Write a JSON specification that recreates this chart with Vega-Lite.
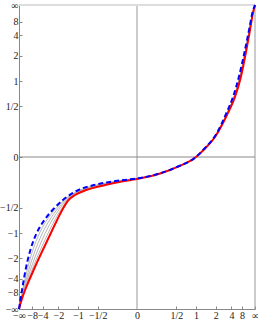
{
  "$schema": "https://vega.github.io/schema/vega-lite/v6.json",
  "width": 236,
  "height": 304,
  "autosize": "none",
  "padding": {"left": 19, "top": 5, "right": 3, "bottom": 13},
  "background": "white",
  "config": {
    "view": {"stroke": null},
    "axis": {
      "grid": false,
      "labelFont": "Liberation Serif",
      "labelFontSize": 10,
      "labelColor": "#222",
      "domainColor": "#888",
      "tickColor": "#888",
      "tickSize": -3,
      "labelOverlap": false,
      "labelFlush": false,
      "labelPadding": 4,
      "title": null
    }
  },
  "datasets": {
    "red": [
      {"u": -1, "v": -1}, {"u": -0.978, "v": -0.9408}, {"u": -0.948, "v": -0.875}, {"u": -0.913, "v": -0.8092},
      {"u": -0.876, "v": -0.7434}, {"u": -0.838, "v": -0.6776}, {"u": -0.798, "v": -0.6118}, {"u": -0.758, "v": -0.5461},
      {"u": -0.718, "v": -0.4803}, {"u": -0.677, "v": -0.4145}, {"u": -0.634, "v": -0.3487}, {"u": -0.58, "v": -0.2829},
      {"u": -0.525, "v": -0.25}, {"u": -0.43, "v": -0.2171}, {"u": -0.27, "v": -0.1842}, {"u": -0.05, "v": -0.1513}, {"u": 0, "v": -0.1447},
      {"u": 0.2034, "v": -0.1072}, {"u": 0.3475, "v": -0.0638}, {"u": 0.5, "v": 0}, {"u": 0.5763, "v": 0.0559},
      {"u": 0.661, "v": 0.1316}, {"u": 0.7203, "v": 0.2105}, {"u": 0.7712, "v": 0.29}, {"u": 0.8305, "v": 0.395},
      {"u": 0.8814, "v": 0.53}, {"u": 0.9237, "v": 0.69}, {"u": 0.9576, "v": 0.835}, {"u": 0.9831, "v": 0.948}, {"u": 1, "v": 1}
    ],
    "blue": [
      {"u": -1, "v": -1}, {"u": -0.9882, "v": -0.9408}, {"u": -0.9745, "v": -0.875}, {"u": -0.9602, "v": -0.8092},
      {"u": -0.9445, "v": -0.7434}, {"u": -0.9262, "v": -0.6776}, {"u": -0.9035, "v": -0.6118}, {"u": -0.8749, "v": -0.5461},
      {"u": -0.8373, "v": -0.4803}, {"u": -0.7847, "v": -0.4145}, {"u": -0.7154, "v": -0.3487}, {"u": -0.6277, "v": -0.2829},
      {"u": -0.4961, "v": -0.2171}, {"u": -0.3645, "v": -0.1842}, {"u": -0.1114, "v": -0.1513}, {"u": 0, "v": -0.1414},
      {"u": 0.2034, "v": -0.1053}, {"u": 0.3475, "v": -0.0625}, {"u": 0.5, "v": 0}, {"u": 0.5763, "v": 0.0592},
      {"u": 0.661, "v": 0.1382}, {"u": 0.7203, "v": 0.2237}, {"u": 0.7627, "v": 0.298}, {"u": 0.8136, "v": 0.395},
      {"u": 0.8644, "v": 0.53}, {"u": 0.911, "v": 0.69}, {"u": 0.9492, "v": 0.835}, {"u": 0.9788, "v": 0.952}, {"u": 1, "v": 1}
    ],
    "gray": [
      {"k": "g1", "u": -1, "v": -1}, {"k": "g1", "u": -0.9862, "v": -0.9408}, {"k": "g1", "u": -0.9692, "v": -0.875}, {"k": "g1", "u": -0.9508, "v": -0.8092},
      {"k": "g1", "u": -0.9308, "v": -0.7434}, {"k": "g1", "u": -0.9086, "v": -0.6776}, {"k": "g1", "u": -0.8824, "v": -0.6118}, {"k": "g1", "u": -0.8513, "v": -0.5461},
      {"k": "g1", "u": -0.8130, "v": -0.4803}, {"k": "g1", "u": -0.7626, "v": -0.4145}, {"k": "g1", "u": -0.6983, "v": -0.3487}, {"k": "g1", "u": -0.6170, "v": -0.2829},
      {"k": "g1", "u": -0.4809, "v": -0.2171}, {"k": "g1", "u": -0.3435, "v": -0.1842}, {"k": "g1", "u": -0.0984, "v": -0.1513}, {"k": "g1", "u": 0, "v": -0.143},
      {"k": "g1", "u": 0.2034, "v": -0.106}, {"k": "g1", "u": 0.3475, "v": -0.063}, {"k": "g1", "u": 0.5, "v": 0}, {"k": "g1", "u": 0.5763, "v": 0.0575},
      {"k": "g1", "u": 0.661, "v": 0.135}, {"k": "g1", "u": 0.7203, "v": 0.217}, {"k": "g1", "u": 0.767, "v": 0.294}, {"k": "g1", "u": 0.822, "v": 0.395},
      {"k": "g1", "u": 0.873, "v": 0.53}, {"k": "g1", "u": 0.917, "v": 0.69}, {"k": "g1", "u": 0.953, "v": 0.835}, {"k": "g1", "u": 0.981, "v": 0.95}, {"k": "g1", "u": 1, "v": 1},

      {"k": "g2", "u": -1, "v": -1}, {"k": "g2", "u": -0.9842, "v": -0.9408}, {"k": "g2", "u": -0.9639, "v": -0.875}, {"k": "g2", "u": -0.9413, "v": -0.8092},
      {"k": "g2", "u": -0.9171, "v": -0.7434}, {"k": "g2", "u": -0.8910, "v": -0.6776}, {"k": "g2", "u": -0.8613, "v": -0.6118}, {"k": "g2", "u": -0.8277, "v": -0.5461},
      {"k": "g2", "u": -0.7888, "v": -0.4803}, {"k": "g2", "u": -0.7404, "v": -0.4145}, {"k": "g2", "u": -0.6812, "v": -0.3487}, {"k": "g2", "u": -0.6062, "v": -0.2829},
      {"k": "g2", "u": -0.4657, "v": -0.2171}, {"k": "g2", "u": -0.3225, "v": -0.1842}, {"k": "g2", "u": -0.0855, "v": -0.1513}, {"k": "g2", "u": 0, "v": -0.143},
      {"k": "g2", "u": 0.2034, "v": -0.106}, {"k": "g2", "u": 0.3475, "v": -0.063}, {"k": "g2", "u": 0.5, "v": 0}, {"k": "g2", "u": 0.5763, "v": 0.0575},
      {"k": "g2", "u": 0.661, "v": 0.135}, {"k": "g2", "u": 0.7203, "v": 0.217}, {"k": "g2", "u": 0.767, "v": 0.294}, {"k": "g2", "u": 0.822, "v": 0.395},
      {"k": "g2", "u": 0.873, "v": 0.53}, {"k": "g2", "u": 0.917, "v": 0.69}, {"k": "g2", "u": 0.953, "v": 0.835}, {"k": "g2", "u": 0.981, "v": 0.95}, {"k": "g2", "u": 1, "v": 1},

      {"k": "g3", "u": -1, "v": -1}, {"k": "g3", "u": -0.9821, "v": -0.9408}, {"k": "g3", "u": -0.9586, "v": -0.875}, {"k": "g3", "u": -0.9319, "v": -0.8092},
      {"k": "g3", "u": -0.9034, "v": -0.7434}, {"k": "g3", "u": -0.8733, "v": -0.6776}, {"k": "g3", "u": -0.8402, "v": -0.6118}, {"k": "g3", "u": -0.8041, "v": -0.5461},
      {"k": "g3", "u": -0.7644, "v": -0.4803}, {"k": "g3", "u": -0.7183, "v": -0.4145}, {"k": "g3", "u": -0.6642, "v": -0.3487}, {"k": "g3", "u": -0.5955, "v": -0.2829},
      {"k": "g3", "u": -0.4504, "v": -0.2171}, {"k": "g3", "u": -0.3013, "v": -0.1842}, {"k": "g3", "u": -0.0725, "v": -0.1513}, {"k": "g3", "u": 0, "v": -0.143},
      {"k": "g3", "u": 0.2034, "v": -0.106}, {"k": "g3", "u": 0.3475, "v": -0.063}, {"k": "g3", "u": 0.5, "v": 0}, {"k": "g3", "u": 0.5763, "v": 0.0575},
      {"k": "g3", "u": 0.661, "v": 0.135}, {"k": "g3", "u": 0.7203, "v": 0.217}, {"k": "g3", "u": 0.767, "v": 0.294}, {"k": "g3", "u": 0.822, "v": 0.395},
      {"k": "g3", "u": 0.873, "v": 0.53}, {"k": "g3", "u": 0.917, "v": 0.69}, {"k": "g3", "u": 0.953, "v": 0.835}, {"k": "g3", "u": 0.981, "v": 0.95}, {"k": "g3", "u": 1, "v": 1},

      {"k": "g4", "u": -1, "v": -1}, {"k": "g4", "u": -0.9801, "v": -0.9408}, {"k": "g4", "u": -0.9533, "v": -0.875}, {"k": "g4", "u": -0.9224, "v": -0.8092},
      {"k": "g4", "u": -0.8897, "v": -0.7434}, {"k": "g4", "u": -0.8557, "v": -0.6776}, {"k": "g4", "u": -0.8191, "v": -0.6118}, {"k": "g4", "u": -0.7806, "v": -0.5461},
      {"k": "g4", "u": -0.7402, "v": -0.4803}, {"k": "g4", "u": -0.6961, "v": -0.4145}, {"k": "g4", "u": -0.6471, "v": -0.3487}, {"k": "g4", "u": -0.5847, "v": -0.2829},
      {"k": "g4", "u": -0.4352, "v": -0.2171}, {"k": "g4", "u": -0.2803, "v": -0.1842}, {"k": "g4", "u": -0.0596, "v": -0.1513}, {"k": "g4", "u": 0, "v": -0.143},
      {"k": "g4", "u": 0.2034, "v": -0.106}, {"k": "g4", "u": 0.3475, "v": -0.063}, {"k": "g4", "u": 0.5, "v": 0}, {"k": "g4", "u": 0.5763, "v": 0.0575},
      {"k": "g4", "u": 0.661, "v": 0.135}, {"k": "g4", "u": 0.7203, "v": 0.217}, {"k": "g4", "u": 0.767, "v": 0.294}, {"k": "g4", "u": 0.822, "v": 0.395},
      {"k": "g4", "u": 0.873, "v": 0.53}, {"k": "g4", "u": 0.917, "v": 0.69}, {"k": "g4", "u": 0.953, "v": 0.835}, {"k": "g4", "u": 0.981, "v": 0.95}, {"k": "g4", "u": 1, "v": 1}
    ]
  },
  "encoding": {
    "x": {
      "field": "u", "type": "quantitative",
      "scale": {"domain": [-1, 1], "nice": false, "zero": false},
      "axis": {
        "orient": "bottom",
        "values": [-1, -0.8889, -0.8, -0.6667, -0.5, -0.3333, 0, 0.3333, 0.5, 0.6667, 0.8, 0.8889, 1],
        "labelExpr": "(datum.value < -0.0001 ? '−' : '') + (abs(datum.value) > 0.999 ? '∞' : (abs(datum.value) > 0.3 && abs(datum.value) < 0.4 ? '1/2' : (abs(datum.value) < 0.01 ? '0' : toString(round(abs(datum.value) / (1 - abs(datum.value)))))))"
      }
    },
    "y": {
      "field": "v", "type": "quantitative",
      "scale": {"domain": [-1, 1], "nice": false, "zero": false},
      "axis": {
        "orient": "left",
        "values": [-1, -0.8889, -0.8, -0.6667, -0.5, -0.3333, 0, 0.3333, 0.5, 0.6667, 0.8, 0.8889, 1],
        "labelExpr": "(datum.value < -0.0001 ? '−' : '') + (abs(datum.value) > 0.999 ? '∞' : (abs(datum.value) > 0.3 && abs(datum.value) < 0.4 ? '1/2' : (abs(datum.value) < 0.01 ? '0' : toString(round(abs(datum.value) / (1 - abs(datum.value)))))))"
      }
    }
  },
  "layer": [
    {
      "data": {"values": [{"u": 0, "v": -1, "v2": 1}]},
      "mark": {"type": "rule", "color": "#cccccc", "strokeWidth": 2},
      "encoding": {"y2": {"field": "v2"}}
    },
    {
      "data": {"values": [{"u": 1, "v": -1, "v2": 1}]},
      "mark": {"type": "rule", "color": "#999999", "strokeWidth": 1},
      "encoding": {"y2": {"field": "v2"}}
    },
    {
      "data": {"values": [{"u": -1, "u2": 1, "v": 1}]},
      "mark": {"type": "rule", "color": "#dddddd", "strokeWidth": 2},
      "encoding": {"x2": {"field": "u2"}}
    },
    {
      "data": {"values": [{"u": -1, "u2": 1, "v": 0}]},
      "mark": {"type": "rule", "color": "#888888", "strokeWidth": 1},
      "encoding": {"x2": {"field": "u2"}}
    },
    {
      "data": {"name": "gray"},
      "mark": {"type": "line", "color": "#999999", "strokeWidth": 0.7, "interpolate": "monotone"},
      "encoding": {"detail": {"field": "k"}}
    },
    {
      "data": {"name": "red"},
      "mark": {"type": "line", "color": "#ff0000", "strokeWidth": 2, "interpolate": "monotone"},
      "encoding": {}
    },
    {
      "data": {"name": "blue"},
      "mark": {"type": "line", "color": "#0000ff", "strokeWidth": 2, "strokeDash": [5, 3], "interpolate": "monotone"},
      "encoding": {}
    }
  ]
}
